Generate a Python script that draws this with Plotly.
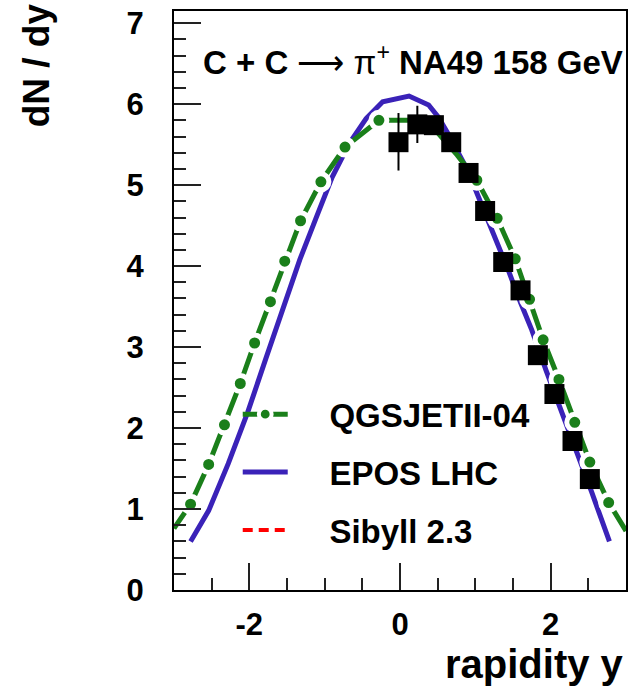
import plotly.graph_objects as go

# ---------------- data ----------------
# NA49 C+C -> pi+ data points
na49_rap = [-0.02, 0.23, 0.45, 0.68, 0.91, 1.13, 1.37, 1.60, 1.83, 2.05, 2.29, 2.52]
na49_dndy = [5.53, 5.75, 5.74, 5.53, 5.15, 4.68, 4.05, 3.70, 2.90, 2.42, 1.84, 1.37]
na49_err_up = [0.36, 0.23, 0.10, 0.10, 0.10, 0.10, 0.10, 0.10, 0.10, 0.10, 0.10, 0.10]
na49_err_dn = [0.35, 0.23, 0.10, 0.10, 0.10, 0.10, 0.10, 0.10, 0.10, 0.10, 0.10, 0.10]

# EPOS LHC curve
epos_rap = [-2.78, -2.54, -2.28, -2.02, -1.78, -1.55, -1.33, -1.12, -0.90, -0.67,
            -0.45, -0.23, 0.00, 0.12, 0.38, 0.51, 0.64, 0.77, 0.90, 1.13,
            1.30, 1.45, 1.60, 1.75, 1.94, 2.14, 2.36, 2.54, 2.78]
epos_dndy = [0.60, 0.98, 1.56, 2.20, 2.86, 3.50, 4.08, 4.58, 5.10, 5.52,
             5.82, 6.03, 6.08, 6.10, 5.99, 5.84, 5.63, 5.42, 5.18, 4.65,
             4.28, 3.92, 3.55, 3.21, 2.71, 2.22, 1.68, 1.22, 0.60]

# QGSJETII-04 curve
qgs_rap = [-3.00, -2.78, -2.54, -2.33, -2.12, -1.93, -1.72, -1.53, -1.32, -1.05,
           -0.73, -0.28, 0.15, 0.45, 0.76, 1.02, 1.29, 1.53, 1.72, 1.90,
           2.11, 2.32, 2.52, 2.77, 3.00]
qgs_dndy = [0.76, 1.06, 1.55, 2.04, 2.55, 3.05, 3.56, 4.06, 4.56, 5.04,
            5.47, 5.80, 5.80, 5.70, 5.37, 5.06, 4.59, 4.09, 3.59, 3.09,
            2.60, 2.07, 1.58, 1.08, 0.73]

# Sibyll 2.3 (legend entry only, no curve visible in the plot)
sibyll_rap = [None]
sibyll_dndy = [None]

y_ticks = [0, 1, 2, 3, 4, 5, 6, 7]
x_ticks = [-2, 0, 2]

# ---------------- styling ----------------
FONT = "Liberation Sans, Arial, Helvetica, sans-serif"
GREEN = "#1A7F1A"
BLUE = "#3A22B8"
PAD = "\u00a0" * 4

hidden_dots = {0, 12, 13, 14, len(qgs_rap) - 1}
qgs_sizes = [0 if i in hidden_dots else 16 for i in range(len(qgs_rap))]
qgs_borders = [0 if i in hidden_dots else 5 for i in range(len(qgs_rap))]

fig = go.Figure()

fig.add_trace(go.Scatter(
    x=epos_rap, y=epos_dndy, mode="lines", name=PAD + "EPOS LHC",
    line=dict(color=BLUE, width=5), legendrank=2, legendgroup="b",
))
fig.add_trace(go.Scatter(
    x=qgs_rap, y=qgs_dndy, mode="lines+markers", name=PAD + "QGSJETII-04",
    line=dict(color=GREEN, width=5),
    marker=dict(color=GREEN, size=qgs_sizes, opacity=1,
                line=dict(color="white", width=qgs_borders)),
    legendrank=1, legendgroup="a",
))
fig.add_trace(go.Scatter(
    x=sibyll_rap, y=sibyll_dndy, mode="lines", name=PAD + "Sibyll 2.3",
    line=dict(color="#FF0000", width=4, dash="10px,6px"),
    legendrank=3, legendgroup="c",
))
fig.add_trace(go.Scatter(
    x=na49_rap, y=na49_dndy, mode="markers", name="NA49", showlegend=False,
    marker=dict(symbol="square", size=20, color="black"),
    error_y=dict(type="data", array=na49_err_up, arrayminus=na49_err_dn,
                 color="black", thickness=2, width=0),
))

fig.update_layout(
    width=630, height=689,
    margin=dict(l=174, r=2, t=11, b=99),
    paper_bgcolor="white", plot_bgcolor="white",
    font=dict(family=FONT, color="black"),
    showlegend=True,
    legend=dict(x=0.141, y=0.352, xanchor="left", yanchor="top",
                bgcolor="rgba(0,0,0,0)", tracegroupgap=12, itemwidth=45,
                font=dict(family=FONT, size=33, color="black", weight="bold")),
    xaxis=dict(range=[-3, 3], tickmode="array", tickvals=x_ticks,
               ticktext=[str(v) for v in x_ticks],
               ticks="inside", ticklen=27, tickwidth=1.5, tickcolor="#222",
               showline=True, linecolor="black", linewidth=2, mirror=True,
               showgrid=False, zeroline=False,
               tickfont=dict(family=FONT, size=31, weight="bold"),
               ticklabelstandoff=6,
               minor=dict(dtick=0.5, ticks="inside", ticklen=12,
                          tickwidth=1.5, tickcolor="#222", showgrid=False)),
    yaxis=dict(range=[0, 7.15], tickmode="array", tickvals=y_ticks,
               ticktext=[str(v) for v in y_ticks],
               ticks="inside", ticklen=27, tickwidth=1.5, tickcolor="#222",
               showline=True, linecolor="black", linewidth=2, mirror=True,
               showgrid=False, zeroline=False,
               tickfont=dict(family=FONT, size=31, weight="bold"),
               ticklabelstandoff=22,
               minor=dict(dtick=0.2, ticks="inside", ticklen=12,
                          tickwidth=1.5, tickcolor="#222", showgrid=False)),
    annotations=[
        dict(text="<b>C + C</b> \u27f6 \u03c0<sup>+</sup> <b>NA49 158 GeV</b>",
             xref="paper", yref="paper", x=0.529, y=0.915,
             xanchor="center", yanchor="middle", showarrow=False,
             font=dict(family=FONT, size=33, color="black")),
        dict(text="<b>dN / dy</b>", textangle=-90,
             xref="paper", yref="paper", x=-0.305, y=1.017,
             xanchor="center", yanchor="top", showarrow=False,
             font=dict(family=FONT, size=37, color="black")),
        dict(text="<b>rapidity y</b>",
             xref="paper", yref="paper", x=1.0, y=-0.127,
             xanchor="right", yanchor="middle", showarrow=False,
             font=dict(family=FONT, size=40, color="black")),
    ],
)

fig.write_html(
    "out.html",
    config={"displayModeBar": False},
    post_script="document.body.style.margin='0px';document.body.style.overflow='hidden';",
)
